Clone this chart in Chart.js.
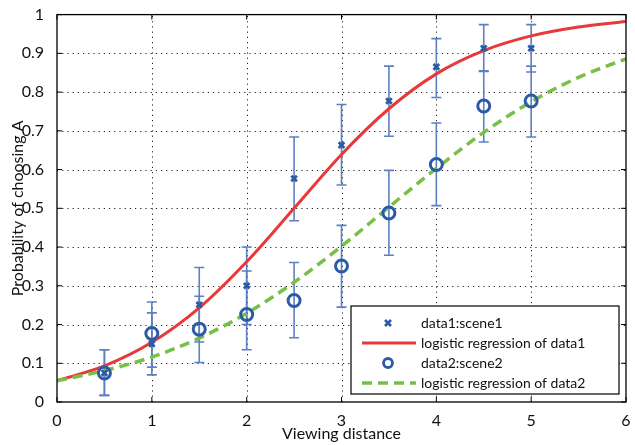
<!DOCTYPE html>
<html>
<head>
<meta charset="utf-8">
<script src="https://cdn.jsdelivr.net/npm/chart.js@4.4.1/dist/chart.umd.min.js"></script>
<style>
html,body{margin:0;padding:0;background:#fff;}
#wrap{width:635px;height:445px;position:relative;}
</style>
</head>
<body>
<div id="wrap"><canvas id="c"></canvas></div>
<script>
// ---- data ----
const xPoints = [0.5, 1, 1.5, 2, 2.5, 3, 3.5, 4, 4.5, 5];
const data1 = [0.075, 0.150, 0.251, 0.300, 0.577, 0.663, 0.777, 0.865, 0.913, 0.913];
const data1Low = [0.017, 0.070, 0.155, 0.200, 0.468, 0.560, 0.686, 0.786, 0.855, 0.852];
const data1High = [0.135, 0.230, 0.347, 0.400, 0.684, 0.768, 0.867, 0.938, 0.974, 0.974];
const data2 = [0.075, 0.177, 0.188, 0.226, 0.262, 0.351, 0.488, 0.613, 0.764, 0.777];
const data2Low = [0.017, 0.090, 0.102, 0.135, 0.166, 0.245, 0.379, 0.507, 0.671, 0.684];
const data2High = [0.135, 0.258, 0.273, 0.338, 0.360, 0.456, 0.598, 0.720, 0.853, 0.867];
const curveX = [0, 0.5, 1, 1.5, 2, 2.5, 3, 3.5, 4, 4.5, 5, 5.5, 6];
const fit1 = [0.055, 0.093, 0.154, 0.243, 0.362, 0.500, 0.639, 0.757, 0.847, 0.907, 0.945, 0.968, 0.982];
const fit2 = [0.055, 0.081, 0.116, 0.165, 0.229, 0.309, 0.402, 0.503, 0.603, 0.696, 0.775, 0.838, 0.886];
const xTickLabels = ['0', '1', '2', '3', '4', '5', '6'];
const yTickLabels = ['0', '0.1', '0.2', '0.3', '0.4', '0.5', '0.6', '0.7', '0.8', '0.9', '1'];
const legendLabels = ['data1:scene1', 'logistic regression of data1', 'data2:scene2', 'logistic regression of data2'];
const xTitle = 'Viewing distance';
const yTitle = 'Probability of choosing A';

const FONT = 'Lato, "Open Sans", sans-serif';
const MARK = '#2d5aa6';
const ERR = '#5c80c2';
const RED = '#e8383a';
const GREEN = '#78bf45';

function pts(xs, ys) { return xs.map((x, i) => ({x: x, y: ys[i]})); }

const gridAndBars = {
  id: 'gridAndBars',
  beforeDatasetsDraw(chart) {
    const ctx = chart.ctx, a = chart.chartArea, xs = chart.scales.x, ys = chart.scales.y;
    ctx.save();
    ctx.strokeStyle = '#222';
    ctx.lineWidth = 1;
    ctx.setLineDash([1.2, 4]);
    ctx.beginPath();
    xTickLabels.forEach((t, i) => {
      if (i === 0 || i === xTickLabels.length - 1) return;
      const px = Math.round(xs.getPixelForValue(i)) + 0.5;
      ctx.moveTo(px, a.bottom); ctx.lineTo(px, a.top);
    });
    yTickLabels.forEach((t, i) => {
      if (i === 0 || i === yTickLabels.length - 1) return;
      const py = Math.round(ys.getPixelForValue(i / 10)) + 0.5;
      ctx.moveTo(a.left, py); ctx.lineTo(a.right, py);
    });
    ctx.stroke();
    ctx.setLineDash([]);
    ctx.strokeStyle = ERR;
    ctx.lineWidth = 1.6;
    const sets = [[data1Low, data1High], [data2Low, data2High]];
    sets.forEach(([lo, hi]) => {
      xPoints.forEach((x, i) => {
        const px = xs.getPixelForValue(x);
        const y1 = ys.getPixelForValue(lo[i]);
        const y2 = ys.getPixelForValue(hi[i]);
        ctx.beginPath();
        ctx.moveTo(px, y1); ctx.lineTo(px, y2);
        ctx.moveTo(px - 5, y1); ctx.lineTo(px + 5, y1);
        ctx.moveTo(px - 5, y2); ctx.lineTo(px + 5, y2);
        ctx.stroke();
      });
    });
    ctx.restore();
  }
};

const frame = {
  id: 'frame',
  afterDatasetsDraw(chart) {
    const ctx = chart.ctx, a = chart.chartArea, xs = chart.scales.x, ys = chart.scales.y;
    ctx.save();
    ctx.strokeStyle = '#000';
    ctx.lineWidth = 1.3;
    ctx.strokeRect(a.left, a.top, a.right - a.left, a.bottom - a.top);
    ctx.lineWidth = 1;
    ctx.beginPath();
    xTickLabels.forEach((t, i) => {
      const px = xs.getPixelForValue(i);
      ctx.moveTo(px, a.bottom); ctx.lineTo(px, a.bottom - 5);
      ctx.moveTo(px, a.top); ctx.lineTo(px, a.top + 5);
    });
    yTickLabels.forEach((t, i) => {
      const py = ys.getPixelForValue(i / 10);
      ctx.moveTo(a.left, py); ctx.lineTo(a.left + 5, py);
      ctx.moveTo(a.right, py); ctx.lineTo(a.right - 5, py);
    });
    ctx.stroke();

    const lx = 351, ly = 306, lw = 268, lh = 88;
    ctx.fillStyle = '#fff';
    ctx.fillRect(lx, ly, lw, lh);
    ctx.strokeStyle = '#000';
    ctx.lineWidth = 1.2;
    ctx.strokeRect(lx, ly, lw, lh);
    const rows = [323, 343, 363, 383];
    const symX = 388, l1 = 362, l2 = 416, tx = 421;
    ctx.strokeStyle = MARK; ctx.lineWidth = 2.6;
    ctx.beginPath();
    ctx.moveTo(symX - 3, rows[0] - 3); ctx.lineTo(symX + 3, rows[0] + 3);
    ctx.moveTo(symX + 3, rows[0] - 3); ctx.lineTo(symX - 3, rows[0] + 3);
    ctx.stroke();
    ctx.strokeStyle = RED; ctx.lineWidth = 3;
    ctx.beginPath(); ctx.moveTo(l1, rows[1]); ctx.lineTo(l2, rows[1]); ctx.stroke();
    ctx.strokeStyle = MARK; ctx.lineWidth = 2.8;
    ctx.beginPath(); ctx.arc(symX, rows[2], 4.5, 0, Math.PI * 2); ctx.stroke();
    ctx.strokeStyle = GREEN; ctx.lineWidth = 3.5; ctx.setLineDash([10, 6]);
    ctx.beginPath(); ctx.moveTo(l1, rows[3]); ctx.lineTo(l2, rows[3]); ctx.stroke();
    ctx.setLineDash([]);
    ctx.fillStyle = '#111';
    ctx.font = '14px ' + FONT;
    ctx.textBaseline = 'middle';
    ctx.textAlign = 'left';
    legendLabels.forEach((s, i) => ctx.fillText(s, tx, rows[i]));
    ctx.restore();
  }
};

new Chart(document.getElementById('c'), {
  type: 'scatter',
  data: {
    datasets: [
      {label: legendLabels[1], data: pts(curveX, fit1), showLine: true, borderColor: RED, borderWidth: 3,
       pointRadius: 0, cubicInterpolationMode: 'monotone', order: 3},
      {label: legendLabels[3], data: pts(curveX, fit2), showLine: true, borderColor: GREEN, borderWidth: 3.5,
       borderDash: [10, 6], pointRadius: 0, cubicInterpolationMode: 'monotone', order: 2},
      {label: legendLabels[0], data: pts(xPoints, data1), pointStyle: 'crossRot', pointRadius: 4,
       borderColor: MARK, pointBorderWidth: 2.8, backgroundColor: MARK, order: 1},
      {label: legendLabels[2], data: pts(xPoints, data2), pointStyle: 'circle', pointRadius: 6,
       borderColor: MARK, pointBorderWidth: 3, backgroundColor: 'rgba(0,0,0,0)', order: 0}
    ]
  },
  options: {
    responsive: true,
    maintainAspectRatio: false,
    animation: false,
    events: [],
    layout: {padding: {top: 10, right: 4, left: 0, bottom: 0}},
    plugins: {legend: {display: false}, tooltip: {enabled: false}},
    scales: {
      x: {
        type: 'linear', min: 0, max: 6,
        afterFit(s) { s.height = 43; },
        afterBuildTicks(s) { s.ticks = xTickLabels.map((t, i) => ({value: i})); },
        ticks: {callback: (v, i) => xTickLabels[i], color: '#111', font: {family: FONT, size: 16}, padding: 1, maxRotation: 0},
        grid: {display: false},
        border: {display: false},
        title: {display: true, text: xTitle, color: '#111', font: {family: FONT, size: 16}, padding: {top: 0, bottom: 2}}
      },
      y: {
        type: 'linear', min: 0, max: 1,
        afterFit(s) { s.width = 57; },
        afterBuildTicks(s) { s.ticks = yTickLabels.map((t, i) => ({value: i / 10})); },
        ticks: {callback: (v, i) => yTickLabels[i], color: '#111', font: {family: FONT, size: 16}, padding: 5},
        grid: {display: false},
        border: {display: false},
        title: {display: true, text: yTitle, color: '#111', font: {family: FONT, size: 16}, padding: {top: 8, bottom: 0}}
      }
    }
  },
  plugins: [gridAndBars, frame]
});
</script>
</body>
</html>
